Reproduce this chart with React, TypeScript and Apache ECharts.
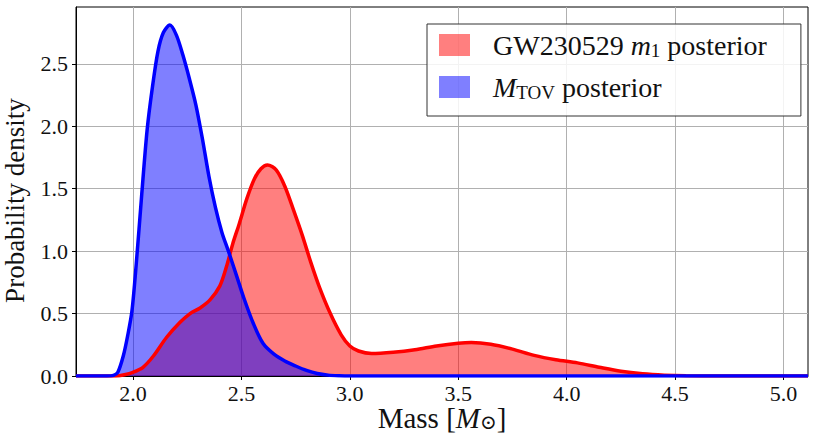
import React, { useEffect, useRef } from "react";
import * as echarts from "echarts";

const FONT = "'Liberation Serif', 'DejaVu Serif', serif";

const xTicks = [2.0, 2.5, 3.0, 3.5, 4.0, 4.5, 5.0];
const yTicks = [0.0, 0.5, 1.0, 1.5, 2.0, 2.5];

// GW230529 m1 posterior density
const gwMass = [1.737, 1.92, 1.96, 2.0, 2.046, 2.094, 2.155, 2.217, 2.263, 2.309, 2.355, 2.40, 2.43, 2.46, 2.49, 2.525, 2.56, 2.59, 2.62, 2.66, 2.70, 2.74, 2.78, 2.82, 2.86, 2.91, 2.96, 3.0, 3.04, 3.10, 3.2, 3.3, 3.4, 3.5, 3.56, 3.65, 3.75, 3.85, 3.95, 4.05, 4.15, 4.25, 4.35, 4.45, 4.55, 4.7, 5.113];
const gwDensity = [0, 0, 0.01, 0.03, 0.07, 0.16, 0.31, 0.43, 0.5, 0.545, 0.61, 0.72, 0.87, 1.06, 1.22, 1.42, 1.58, 1.66, 1.69, 1.65, 1.52, 1.33, 1.13, 0.91, 0.71, 0.5, 0.33, 0.24, 0.2, 0.18, 0.19, 0.21, 0.24, 0.262, 0.268, 0.254, 0.215, 0.165, 0.13, 0.105, 0.07, 0.038, 0.018, 0.007, 0.002, 0, 0];

// M_TOV posterior density
const tovMass = [1.737, 1.88, 1.91, 1.93, 1.955, 1.975, 1.995, 2.015, 2.04, 2.065, 2.09, 2.115, 2.14, 2.17, 2.2, 2.23, 2.26, 2.29, 2.32, 2.35, 2.38, 2.41, 2.44, 2.48, 2.51, 2.555, 2.6, 2.65, 2.7, 2.75, 2.8, 2.85, 2.9, 2.95, 3.0, 5.113];
const tovDensity = [0, 0, 0.005, 0.03, 0.16, 0.32, 0.52, 0.9, 1.45, 1.97, 2.32, 2.6, 2.75, 2.81, 2.73, 2.57, 2.38, 2.17, 1.9, 1.6, 1.35, 1.15, 1.0, 0.79, 0.63, 0.42, 0.26, 0.175, 0.12, 0.08, 0.045, 0.02, 0.007, 0.002, 0, 0];

const zip = (xs: number[], ys: number[]) => xs.map((x, i) => [x, ys[i]]);

export default function App() {
  const ref = useRef<HTMLDivElement>(null);
  useEffect(() => {
    const chart = echarts.init(ref.current!, null, { renderer: "svg" });
    const textColor = "#111";
    chart.setOption({
      animation: false,
      backgroundColor: "#fff",
      grid: {
        left: 76,
        right: 6,
        top: 7,
        bottom: 61,
        containLabel: false,
        outerBoundsMode: "none",
        show: true,
        borderColor: "#000",
        borderWidth: 1,
        backgroundColor: "transparent",
      },
      legend: {
        orient: "vertical",
        left: 427,
        top: 24,
        icon: "rect",
        itemWidth: 31,
        itemHeight: 22,
        itemGap: 13,
        padding: [7, 34, 14, 12],
        backgroundColor: "rgba(255,255,255,0.85)",
        borderColor: "#333",
        borderWidth: 1,
        borderRadius: 0,
        data: [
          { name: "gw", itemStyle: { color: "rgba(255,0,0,0.5)", borderWidth: 0 } },
          { name: "tov", itemStyle: { color: "rgba(0,0,255,0.5)", borderWidth: 0 } },
        ],
        formatter: (name: string) =>
          name === "gw"
            ? "{g|}{a|GW230529 }{i|m}{s|1}{a| posterior}"
            : "{g|}{i|M}{s|TOV}{a| posterior}",
        textStyle: {
          color: textColor,
          fontFamily: FONT,
          fontSize: 28,
          rich: {
            g: { width: 18 },
            a: { fontSize: 28, fontFamily: FONT, color: textColor, lineHeight: 30 },
            i: { fontSize: 28, fontFamily: FONT, fontStyle: "italic", color: textColor, lineHeight: 30 },
            s: { fontSize: 19, fontFamily: FONT, color: textColor, verticalAlign: "bottom", lineHeight: 12 },
          },
        },
      },
      xAxis: {
        type: "value",
        min: 1.737,
        max: 5.113,
        name: "{r|Mass [}{i|M}{s|⊙}{r|]}",
        nameLocation: "middle",
        nameGap: 28,
        nameMoveOverlap: false,
        nameTextStyle: {
          rich: {
            r: { fontSize: 29, fontFamily: FONT, color: textColor, lineHeight: 28 },
            i: { fontSize: 29, fontFamily: FONT, fontStyle: "italic", color: textColor, lineHeight: 28 },
            s: { fontSize: 20, fontFamily: FONT, color: textColor, verticalAlign: "bottom", lineHeight: 10 },
          },
        },
        axisLine: { show: true, lineStyle: { color: "#000", width: 1 } },
        axisTick: { show: true, length: 4, lineStyle: { color: "#000" }, customValues: xTicks },
        axisLabel: {
          customValues: xTicks,
          formatter: (v: number) => v.toFixed(1),
          fontFamily: FONT,
          fontSize: 22,
          color: textColor,
          margin: 6,
        },
        splitLine: { show: true, lineStyle: { color: "#b0b0b0", width: 1 } },
      },
      yAxis: {
        type: "value",
        min: 0,
        max: 2.955,
        name: "Probability density",
        nameLocation: "middle",
        nameGap: 48,
        nameMoveOverlap: false,
        nameTextStyle: { fontSize: 27, fontFamily: FONT, color: textColor, padding: [0, 18, 0, 0] },
        axisLine: { show: true, lineStyle: { color: "#000", width: 1 } },
        axisTick: { show: true, length: 4, lineStyle: { color: "#000" }, customValues: yTicks },
        axisLabel: {
          customValues: yTicks,
          formatter: (v: number) => v.toFixed(1),
          fontFamily: FONT,
          fontSize: 22,
          color: textColor,
          margin: 8,
        },
        splitLine: { show: true, lineStyle: { color: "#b0b0b0", width: 1 } },
      },
      series: [
        {
          name: "gw",
          type: "line",
          data: zip(gwMass, gwDensity),
          smooth: 0.3,
          showSymbol: false,
          lineStyle: { color: "#ff0000", width: 3.5 },
          itemStyle: { color: "rgba(255,0,0,0.5)" },
          areaStyle: { color: "rgba(255,0,0,0.5)", opacity: 1 },
        },
        {
          name: "tov",
          type: "line",
          data: zip(tovMass, tovDensity),
          smooth: 0.3,
          showSymbol: false,
          lineStyle: { color: "#0000ff", width: 3.5 },
          itemStyle: { color: "rgba(0,0,255,0.5)" },
          areaStyle: { color: "rgba(0,0,255,0.5)", opacity: 1 },
        },
      ],
    });
    return () => chart.dispose();
  }, []);
  return (
    <div
      ref={ref}
      style={{ position: "absolute", left: 0, top: 0, width: 814, height: 437 }}
    />
  );
}
